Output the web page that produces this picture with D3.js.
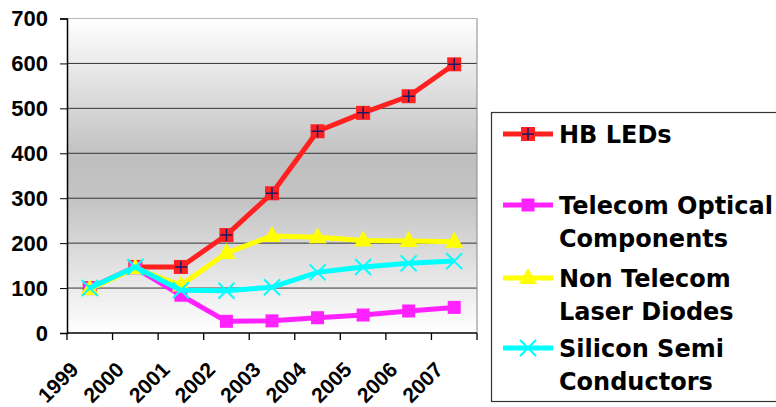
<!DOCTYPE html>
<html><head><meta charset="utf-8">
<script src="https://cdn.jsdelivr.net/npm/d3@7"></script>
<style>body{margin:0;background:#fff}svg{display:block}</style>
</head><body>
<svg id="c" width="776" height="407"></svg>
<script>
const years = ["1999","2000","2001","2002","2003","2004","2005","2006","2007"];
const yTicks = [0,100,200,300,400,500,600,700];
const hbLeds = [100,147,147,218,311,449,490,527,598];
const telecomOptical = [100,145,84,26,27,34,40,49,57];
const nonTelecomLaser = [98,144,106,178,216,213,206,205,203];
const siliconSemi = [100,147,95,94,102,135,147,155,160];
const seriesNames = [["HB LEDs"],["Telecom Optical","Components"],["Non Telecom","Laser Diodes"],["Silicon Semi","Conductors"]];

const series = [
  {values: hbLeds, color:"#ff2020", marker:"plus"},
  {values: telecomOptical, color:"#ff22ff", marker:"square"},
  {values: nonTelecomLaser, color:"#ffff00", marker:"triangle"},
  {values: siliconSemi, color:"#00ffff", marker:"x"}
];

const svg = d3.select("#c");
const L=67, R=477, T=18.5, B=333;
const x = d3.scaleBand().domain(years).range([L,R]);
const y = d3.scaleLinear().domain([0,700]).range([B,T]);

const defs = svg.append("defs");
const g = defs.append("linearGradient").attr("id","bg").attr("x1",0).attr("y1",0).attr("x2",0).attr("y2",1);
g.append("stop").attr("offset","0%").attr("stop-color","#ffffff");
g.append("stop").attr("offset","45%").attr("stop-color","#bfbfbf");
g.append("stop").attr("offset","58%").attr("stop-color","#c4c4c4");
g.append("stop").attr("offset","100%").attr("stop-color","#ffffff");

svg.append("rect").attr("x",L).attr("y",T).attr("width",R-L).attr("height",B-T).attr("fill","url(#bg)");
// grid
svg.append("g").selectAll("line").data(yTicks.filter(d=>d>0 && d<700)).join("line")
  .attr("x1",L).attr("x2",R).attr("y1",d=>y(d)).attr("y2",d=>y(d)).attr("stroke","#333").attr("stroke-width",1);
// top & right border
svg.append("line").attr("x1",L).attr("x2",R).attr("y1",T).attr("y2",T).attr("stroke","#b8b8b8");
svg.append("line").attr("x1",R).attr("x2",R).attr("y1",T).attr("y2",B).attr("stroke","#888");

// y axis
const ya = svg.append("g").attr("transform",`translate(${L},0)`).call(d3.axisLeft(y).tickValues(yTicks).tickSize(7).tickPadding(12));
ya.select(".domain").attr("stroke","#000").attr("stroke-width",1.5);
ya.selectAll("text").attr("font-family","Liberation Sans, Arial, sans-serif").attr("font-weight","bold").attr("font-size","22px").attr("fill","#000");
// x axis
const xa = svg.append("g").attr("transform",`translate(0,${B})`);
xa.append("line").attr("x1",L).attr("x2",R).attr("stroke","#000").attr("stroke-width",1.5);
xa.selectAll("line.t").data(years.concat(["end"])).join("line").attr("class","t")
  .attr("x1",(d,i)=>L+i*x.step()).attr("x2",(d,i)=>L+i*x.step()).attr("y1",0).attr("y2",7).attr("stroke","#000").attr("stroke-width",1.3);
xa.selectAll("text").data(years).join("text")
  .attr("transform",d=>`translate(${x(d)+x.bandwidth()/2-10},${38}) rotate(-45)`)
  .attr("text-anchor","end")
  .attr("font-family","Liberation Sans, Arial, sans-serif").attr("font-weight","bold").attr("font-size","21px").text(d=>d);

const cx = d=>x(d)+x.bandwidth()/2;
function drawMarker(sel, type, color){
  if(type==="plus"){
    sel.append("rect").attr("x",-7).attr("y",-7).attr("width",14).attr("height",14).attr("fill",color);
    sel.append("path").attr("d","M-6,0H6M0,-6V6").attr("stroke","#1a1a6a").attr("stroke-width",1.5);
  } else if(type==="square"){
    sel.append("rect").attr("x",-6.5).attr("y",-6.5).attr("width",13).attr("height",13).attr("fill",color);
  } else if(type==="triangle"){
    sel.append("path").attr("d","M0,-10L9,6H-9Z").attr("fill",color);
  } else if(type==="x"){
    sel.append("path").attr("d","M-8,-8L8,8M-8,8L8,-8").attr("stroke",color).attr("stroke-width",2);
  }
}
const line = d3.line().x((d,i)=>cx(years[i])).y(d=>y(d));
series.forEach(s=>{
  const gg = svg.append("g");
  gg.append("path").attr("d",line(s.values)).attr("fill","none").attr("stroke",s.color).attr("stroke-width",5).attr("stroke-linejoin","round");
  s.values.forEach((v,i)=>{
    const m = gg.append("g").attr("transform",`translate(${cx(years[i])},${y(v)})`);
    drawMarker(m, s.marker, s.color);
  });
});

// legend
svg.append("rect").attr("x",491.5).attr("y",112.5).attr("width",300).attr("height",289).attr("fill","#fff").attr("stroke","#333").attr("stroke-width",1.2);
const legY = [134,205,278,348];
series.forEach((s,i)=>{
  const lg = svg.append("g");
  lg.append("line").attr("x1",503).attr("x2",553).attr("y1",legY[i]).attr("y2",legY[i]).attr("stroke",s.color).attr("stroke-width",5);
  const m = lg.append("g").attr("transform",`translate(528,${legY[i]})`);
  drawMarker(m, s.marker, s.color);
  const t = lg.append("text").attr("x",559).attr("y",legY[i]).attr("font-family","DejaVu Sans, Verdana, sans-serif").attr("font-weight","bold").attr("font-size","24px").attr("dy","0.36em");
  seriesNames[i].forEach((n,j)=>t.append("tspan").attr("x",559).attr("dy", j===0?"0.36em":"33px").text(n));
});
</script>
</body></html>
